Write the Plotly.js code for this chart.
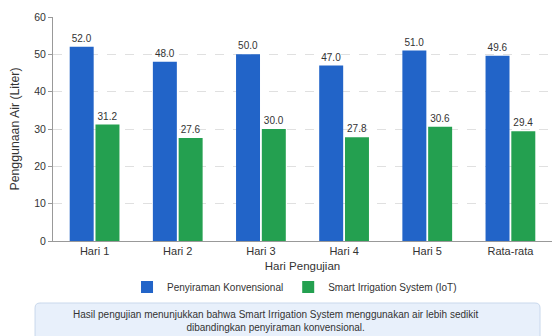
<!DOCTYPE html>
<html>
<head>
<meta charset="utf-8">
<script src="https://cdn.plot.ly/plotly-3.0.1.min.js"></script>
<style>html,body{margin:0;padding:0;background:#fff;}#chart{width:552px;height:336px;}</style>
</head>
<body>
<div id="chart"></div>
<script>
const categories = ["Hari 1", "Hari 2", "Hari 3", "Hari 4", "Hari 5", "Rata-rata"];
const konvensional = [52.0, 48.0, 50.0, 47.0, 51.0, 49.6];
const smartIoT = [31.2, 27.6, 30.0, 27.8, 30.6, 29.4];
const seriesNames = ["Penyiraman Konvensional", "Smart Irrigation System (IoT)"];
const yTicks = [0, 10, 20, 30, 40, 50, 60];
const note = "Hasil pengujian menunjukkan bahwa Smart Irrigation System menggunakan air lebih sedikit<br>dibandingkan penyiraman konvensional.";

const font = "'Liberation Sans', Arial, sans-serif";
const traces = [
  {type: "bar", x: categories, y: konvensional, name: seriesNames[0],
   marker: {color: "#2264c8"}, texttemplate: "%{y:.1f}", textposition: "outside",
   textfont: {size: 10, color: "#333"}, cliponaxis: false},
  {type: "bar", x: categories, y: smartIoT, name: seriesNames[1],
   marker: {color: "#24a050"}, texttemplate: "%{y:.1f}", textposition: "outside",
   textfont: {size: 10, color: "#333"}, cliponaxis: false}
];
const layout = {
  width: 552, height: 336,
  margin: {l: 53, r: 0, t: 17, b: 95},
  paper_bgcolor: "#fff", plot_bgcolor: "#fff",
  font: {family: font, size: 11, color: "#333"},
  barmode: "group", bargap: 0.38, bargroupgap: 0.07,
  showlegend: true,
  legend: {orientation: "h", x: 0.484, xanchor: "center", y: -0.205, yanchor: "middle",
           font: {size: 10, color: "#333"}, itemwidth: 30},
  xaxis: {
    title: {text: "Hari Pengujian", font: {size: 11.5, color: "#333"}, standoff: 5},
    showline: true, linecolor: "#999", linewidth: 1, ticks: "", showgrid: false,
    tickfont: {size: 11, color: "#333"}
  },
  yaxis: {
    title: {text: "Penggunaan Air (Liter)", font: {size: 12.3, color: "#333"}, standoff: 11},
    range: [0, 60], tickvals: yTicks, showline: true, linecolor: "#999", linewidth: 1,
    ticks: "outside", ticklen: 4, tickcolor: "#999",
    gridcolor: "#e0e0e0", griddash: "dash", zeroline: false,
    tickfont: {size: 10.5, color: "#333"}
  },
  shapes: [{
    type: "path", xref: "paper", yref: "paper",
    path: "M -0.026,-0.2768 L 0.966,-0.2768 Q 0.976,-0.2768 0.976,-0.299 L 0.976,-0.47 L -0.036,-0.47 L -0.036,-0.299 Q -0.036,-0.2768 -0.026,-0.2768 Z",
    fillcolor: "#e8f0fb", line: {color: "#c9d8ec", width: 1}
  }],
  annotations: [{
    xref: "paper", yref: "paper", x: 0.445, y: -0.355, xanchor: "center", yanchor: "middle",
    text: note, showarrow: false, align: "center",
    font: {size: 10, color: "#333"}
  }]
};
Plotly.newPlot("chart", traces, layout, {displayModeBar: false, staticPlot: true});
</script>
</body>
</html>
